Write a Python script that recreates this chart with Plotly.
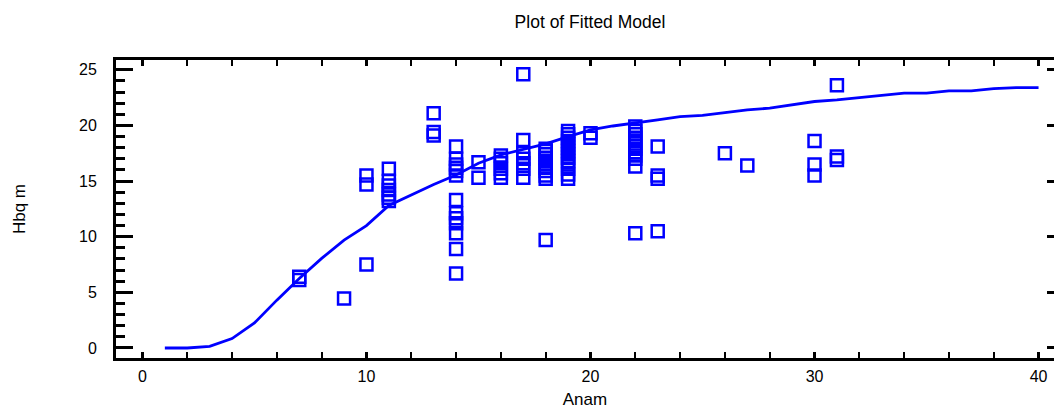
import plotly.graph_objects as go

# Observed data (Anam, Hbq m)
anam = [7, 7,
        9,
        10, 10, 10,
        11, 11, 11, 11, 11, 11, 11,
        13, 13, 13,
        14, 14, 14, 14, 14, 14, 14, 14, 14, 14, 14, 14, 14,
        15, 15,
        16, 16, 16, 16, 16, 16,
        17, 17, 17, 17, 17, 17, 17,
        18, 18, 18, 18, 18, 18, 18, 18, 18, 18, 18,
        19, 19, 19, 19, 19, 19, 19, 19, 19, 19, 19, 19, 19, 19,
        20, 20,
        22, 22, 22, 22, 22, 22, 22, 22, 22, 22, 22, 22,
        23, 23, 23, 23,
        26,
        27,
        30, 30, 30,
        31, 31, 31]
hbq = [6.4, 6.1,
       4.45,
       15.5, 14.7, 7.5,
       16.1, 15.0, 14.6, 14.2, 13.8, 13.5, 13.2,
       21.1, 19.4, 19.1,
       18.1, 17.0, 16.5, 16.2, 15.9, 15.5, 13.3, 12.1, 11.65, 11.2, 10.3, 8.9, 6.7,
       16.7, 15.3,
       17.3, 17.0, 16.6, 16.1, 15.7, 15.3,
       24.6, 18.7, 17.5, 17.0, 16.6, 16.1, 15.3,
       17.9, 17.7, 17.4, 17.1, 16.8, 16.5, 16.2, 15.9, 15.5, 15.2, 9.7,
       19.5, 19.2, 18.9, 18.6, 18.3, 18.0, 17.7, 17.4, 17.1, 16.8, 16.5, 16.1, 15.6, 15.2,
       19.3, 18.9,
       19.9, 19.5, 19.2, 18.9, 18.6, 18.2, 17.9, 17.6, 17.3, 17.0, 16.3, 10.3,
       18.1, 15.5, 15.2, 10.5,
       17.5,
       16.4,
       18.6, 16.5, 15.5,
       23.6, 17.2, 16.9]

# Fitted model curve
fit_x = [1, 2, 3, 4, 5, 6, 7, 8, 9, 10,
         11, 12, 13, 14, 15, 16, 17, 18, 19, 20,
         21, 22, 23, 24, 25, 26, 27, 28, 29, 30,
         31, 32, 33, 34, 35, 36, 37, 38, 39, 40]
fit_y = [0.0, 0.0, 0.15, 0.85, 2.25, 4.3, 6.25, 8.05, 9.7, 11.0,
         12.8, 13.75, 14.7, 15.55, 16.6, 17.35, 17.85, 18.35, 19.0, 19.6,
         19.95, 20.2, 20.5, 20.8, 20.9, 21.15, 21.4, 21.55, 21.85, 22.15,
         22.3, 22.5, 22.7, 22.9, 22.9, 23.1, 23.1, 23.3, 23.4, 23.4]

x_range = [-1.18, 40.69]
y_range = [-0.9, 25.88]

BLUE = "#0000FF"
FONT = "Liberation Sans, Arial, sans-serif"

fig = go.Figure()
fig.add_trace(go.Scatter(
    x=anam, y=hbq, mode="markers",
    marker=dict(symbol="square-open", size=12, color=BLUE,
                line=dict(width=2.5, color=BLUE)),
    showlegend=False, yaxis="y",
))
fig.add_trace(go.Scatter(
    x=fit_x, y=fit_y, mode="lines",
    line=dict(color=BLUE, width=2.8),
    showlegend=False, yaxis="y2",
))

fig.update_layout(
    width=1054, height=409,
    margin=dict(l=116, r=0, t=60, b=51),
    paper_bgcolor="white", plot_bgcolor="white",
    font=dict(family=FONT, size=16, color="black"),
    title=dict(text="Plot of Fitted Model", xref="container", x=590 / 1054,
               xanchor="center", yref="container", y=1 - 22 / 409,
               yanchor="middle", font=dict(family=FONT, size=17.5, color="black")),
    xaxis=dict(
        range=x_range, showgrid=False, zeroline=False,
        showline=True, linecolor="black", linewidth=3, mirror="allticks",
        ticks="inside", tickcolor="black", ticklen=6, tickwidth=3,
        tick0=0, dtick=10, ticklabelstandoff=2,
        minor=dict(dtick=2, tick0=0, ticks="inside", ticklen=3, tickwidth=2,
                   tickcolor="black", showgrid=False),
        title=dict(text="Anam", standoff=9, font=dict(family=FONT, size=17)),
        tickfont=dict(family=FONT, size=16),
    ),
    yaxis=dict(
        range=y_range, showgrid=False, zeroline=False,
        showline=True, linecolor="black", linewidth=3,
        ticks="inside", tickcolor="black", ticklen=17, tickwidth=3,
        tick0=0, dtick=5, ticklabelstandoff=13,
        minor=dict(dtick=1, tick0=0, ticks="inside", ticklen=9, tickwidth=3,
                   tickcolor="black", showgrid=False),
        title=dict(text="Hbq m", standoff=50, font=dict(family=FONT, size=17)),
        tickfont=dict(family=FONT, size=16),
    ),
    yaxis2=dict(
        range=y_range, overlaying="y", side="right", showgrid=False,
        zeroline=False, showline=False, showticklabels=False,
        ticks="inside", tickcolor="black", ticklen=7, tickwidth=3,
        tick0=0, dtick=5,
    ),
)

fig.write_html("out.html")
